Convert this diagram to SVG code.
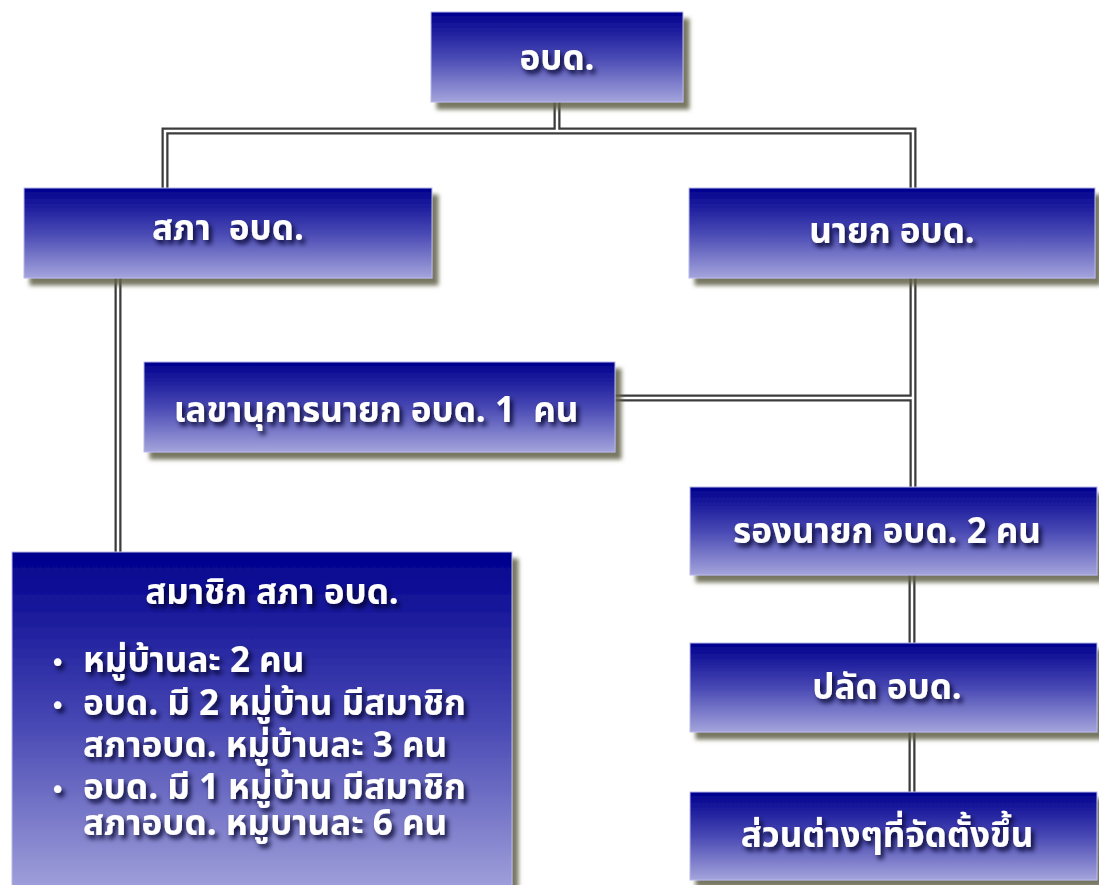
<svg xmlns="http://www.w3.org/2000/svg" width="1099" height="885" viewBox="0 0 1099 885">
<defs>
<linearGradient id="g" x1="0" y1="0" x2="0" y2="1">
<stop offset="0" stop-color="#00008e"/>
<stop offset="0.5" stop-color="#4848b4"/>
<stop offset="1" stop-color="#a4a4dc"/>
</linearGradient>
<filter id="sh" x="-5%" y="-10%" width="115%" height="130%">
<feDropShadow dx="6" dy="7" stdDeviation="2" flood-color="#5f5f45" flood-opacity="0.85"/>
</filter>
<filter id="ts" x="-10%" y="-30%" width="130%" height="170%">
<feDropShadow dx="3" dy="4" stdDeviation="2.5" flood-color="#00002a" flood-opacity="0.9"/>
</filter>
<style>
.box{fill:url(#g);stroke:#b8b8e8;stroke-width:1;filter:url(#sh)}
.t{fill:#ffffff;font-family:Tahoma,"Noto Sans Thai","Noto Sans","DejaVu Sans",sans-serif;font-weight:bold;font-size:35px;text-anchor:middle;white-space:pre;filter:url(#ts)}
.l{fill:#ffffff;font-family:Tahoma,"Noto Sans Thai","Noto Sans","DejaVu Sans",sans-serif;font-weight:bold;font-size:35px;white-space:pre;filter:url(#ts)}
.b{fill:#ffffff;font-family:"DejaVu Sans",sans-serif;font-size:26px;filter:url(#ts)}
.co{fill:none;stroke:#3c3c3c;stroke-width:7}
.ci{fill:none;stroke:#ffffff;stroke-width:2.5}
</style>
</defs>
<rect width="1099" height="885" fill="#ffffff"/>
<g id="connectors">
<path class="co" d="M557 102V131M165 188V131H913V188M118 278V552M913 278V487M615 398H913M912 575V643M912 732V792"/>
<path class="ci" d="M557 102V131M165 188V131H913V188M118 278V552M913 278V487M615 398H913M912 575V643M912 732V792"/>
</g>
<g id="n_obd"><rect class="box" x="431" y="12" width="252" height="90"/><text class="t" x="557" y="70">อบด.</text></g>
<g id="n_sapa"><rect class="box" x="24" y="188" width="408" height="90"/><text class="t" x="228" y="240">สภา  อบด.</text></g>
<g id="n_nayok"><rect class="box" x="689" y="188" width="406" height="90"/><text class="t" x="892" y="243">นายก อบด.</text></g>
<g id="n_lekha"><rect class="box" x="144" y="362" width="471" height="90"/><text class="t" x="376" y="422">เลขานุการนายก อบด. 1  คน</text></g>
<g id="n_samachik"><rect class="box" x="12" y="552" width="500" height="345"/>
<text class="t" x="272" y="604">สมาชิก สภา อบด.</text>
<text class="b"><tspan x="50" y="672">•</tspan><tspan x="50" y="715">•</tspan><tspan x="50" y="799">•</tspan></text>
<text class="l"><tspan x="83" y="672">หมู่บ้านละ 2 คน</tspan><tspan x="83" y="715">อบด. มี 2 หมู่บ้าน มีสมาชิก</tspan><tspan x="83" y="757">สภาอบด. หมู่บ้านละ 3 คน</tspan><tspan x="83" y="799">อบด. มี 1 หมู่บ้าน มีสมาชิก</tspan><tspan x="83" y="835">สภาอบด. หมูบานละ 6 คน</tspan></text>
</g>
<g id="n_rong"><rect class="box" x="690" y="487" width="407" height="88"/><text class="t" x="887" y="543">รองนายก อบด. 2 คน</text></g>
<g id="n_palat"><rect class="box" x="690" y="643" width="407" height="89"/><text class="t" x="887" y="699">ปลัด อบด.</text></g>
<g id="n_suan"><rect class="box" x="690" y="792" width="407" height="88"/><text class="t" x="887" y="847">ส่วนต่างๆที่จัดตั้งขึ้น</text></g>
</svg>
